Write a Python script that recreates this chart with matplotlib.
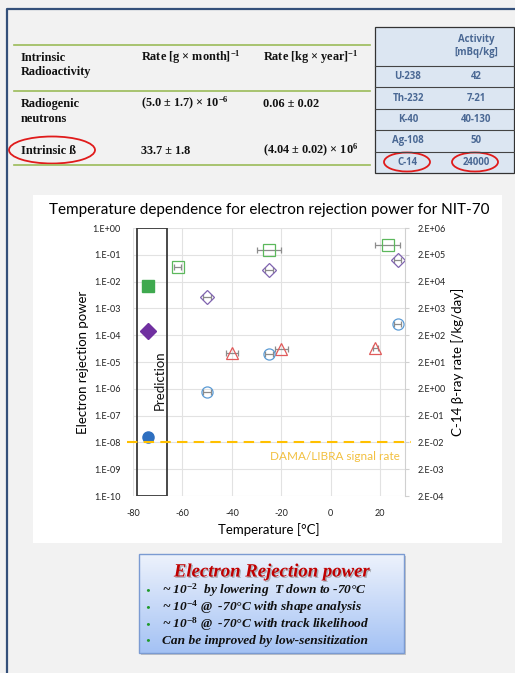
"""
NIT-70 electron rejection power vs temperature (slide recreation)
"""
import numpy as np
import matplotlib
matplotlib.use('Agg')
import matplotlib.pyplot as plt
import matplotlib.patheffects as pe
from matplotlib.patches import Rectangle, Ellipse
from matplotlib.colors import LinearSegmentedColormap
from matplotlib.ticker import FixedLocator, NullLocator, FuncFormatter

plt.rcParams['font.family'] = ['Lato', 'DejaVu Sans']
plt.rcParams['axes.unicode_minus'] = False
plt.rcParams['mathtext.fontset'] = 'custom'
plt.rcParams['mathtext.rm'] = 'Liberation Serif:bold'
plt.rcParams['mathtext.bf'] = 'Liberation Serif:bold'
plt.rcParams['mathtext.it'] = 'Liberation Serif:italic:bold'

# ---- data ----
# open squares (green)
sq_temp = [-62, -25, 23]
sq_val = [3.6e-2, 0.15, 0.23]
sq_err = [1.5, 5, 5]
# open diamonds (purple)
dia_temp = [-50, -25, 27]
dia_val = [2.7e-3, 2.6e-2, 6.4e-2]
dia_err = [1.5, 1.5, 1.5]
# open triangles (red)
tri_temp = [-40, -20, 18]
tri_val = [2.1e-5, 3.0e-5, 3.2e-5]
tri_err = [2.5, 2.5, 1.0]
# open circles (blue)
cir_temp = [-50, -25, 27]
cir_val = [7.9e-7, 2.0e-5, 2.6e-4]
cir_err = [1.5, 1.5, 1.5]
# prediction at -74 C
pred_temp = [-74]
pred_sq = [7e-3]
pred_dia = [1.4e-4]
pred_cir = [1.6e-8]
pred_box = [-78.4, -66.4]

dama_rate = 1e-8
c14_scale = 2e6   # right axis = left axis * 2e6

x_ticks = [-80, -60, -40, -20, 0, 20]
y_exps = np.arange(-10, 1)

# tables (one string per line)
left_head = [['Intrinsic', 'Radioactivity'], ['Rate [g × month]$^{-1}$'], ['Rate [kg × year]$^{-1}$']]
left_rows = [[['Radiogenic', 'neutrons'], ['(5.0 ± 1.7) × 10$^{-6}$'], ['0.06 ± 0.02']],
             [['Intrinsic ß'], ['33.7 ± 1.8'], ['(4.04 ± 0.02) × 10$^{6}$']]]
iso_names = ['U-238', 'Th-232', 'K-40', 'Ag-108', 'C-14']
iso_activity = ['42', '7-21', '40-130', '50', '24000']

box_title = 'Electron Rejection power'
box_lines = [r'~ 10$^{\mathit{-2}}$  by lowering  T down to -70°C',
             r'~ 10$^{\mathit{-4}}$ @  -70°C with shape analysis',
             r'~ 10$^{\mathit{-8}}$ @  -70°C with track likelihood',
             'Can be improved by low-sensitization']

W, H = 515, 673
fig = plt.figure(figsize=(W / 100, H / 100), dpi=100)
fig.patch.set_facecolor('#f2f2f2')

# background layer in pixel coords
bg = fig.add_axes([0, 0, 1, 1])
bg.axis('off')

# slide frame
bg.plot([7, 7, W], [H, 9, 9], color='#34507a', lw=1.6)

# left table
for y in [45, 90.5, 165]:
    bg.plot([14, 370], [y, y], color='#9bbb59', lw=1.2)
serif = dict(family='Liberation Serif', fontweight='bold', fontsize=8.8, va='baseline', color='#111111')
col_x = [21, 141, 263]


def cell(x, y0, lines):
    for j, s in enumerate(lines):
        bg.text(x, y0 + j * 14.5, s, **serif)


for x, c in zip(col_x, left_head):
    cell(x, 61, c)
for y, row in zip([107, 154], left_rows):
    for x, c in zip(col_x, row):
        cell(x, y, c)

# right table
bg.add_patch(Rectangle((375, 27), 139, 146, facecolor='#dce6f2', edgecolor='#333333', lw=0.9))
row_y = np.linspace(66, 173, 6)
for y in row_y[:-1]:
    bg.plot([375, 514], [y, y], color='#444444', lw=0.8)
tbl = dict(family='Open Sans', fontsize=6.9, fontweight='bold', color='#4a6894', ha='center', va='center')
bg.text(476, 46, 'Activity\n[mBq/kg]', linespacing=1.3, **tbl)
for i, (n, a) in enumerate(zip(iso_names, iso_activity)):
    yc = (row_y[i] + row_y[i + 1]) / 2
    bg.text(408, yc, n, **tbl)
    bg.text(476, yc, a, **tbl)

# red ellipses
for cx, cy, w, h in [(52, 150, 86, 27), (407, 162, 46, 19), (475, 162, 46, 19)]:
    bg.add_patch(Ellipse((cx, cy), w, h, facecolor='none', edgecolor='#e01b1b', lw=1.3))

# white chart panel
bg.add_patch(Rectangle((33, 195), 469, 348, facecolor='white', edgecolor='none'))

# bottom text box
bg.add_patch(Rectangle((141, 556), 265, 99, facecolor='#c4c4c4', edgecolor='none'))
grad = LinearSegmentedColormap.from_list('box', ['#edf2fc', '#a4c2f4'])
bg.imshow(np.linspace(0, 1, 100).reshape(-1, 1), cmap=grad, extent=(139, 404, 653, 554),
          aspect='auto', zorder=2)
bg.add_patch(Rectangle((139, 554), 265, 99, facecolor='none', edgecolor='#7b9bd2', lw=1.0, zorder=3))
bg.text(272, 572, box_title, family='Liberation Serif', fontstyle='italic', fontweight='bold',
        fontsize=13.5, color='#c00000', ha='center', va='center', zorder=4,
        path_effects=[pe.withSimplePatchShadow(offset=(1, -1), shadow_rgbFace='#777777', alpha=0.5)])
for i, s in enumerate(box_lines):
    y = 590 + i * 16.7
    bg.text(148, y, '•', fontsize=6, color='#1f9a2a', ha='center', va='center', zorder=4)
    bg.text(162, y + 4, s, family='Liberation Serif', fontstyle='italic', fontweight='bold',
            fontsize=9.6, color='#111111', va='baseline', zorder=4)

bg.set_xlim(0, W)
bg.set_ylim(H, 0)

# ---- chart ----
ax = fig.add_axes([133 / W, 1 - 496 / H, 272 / W, 268 / H])
ax.set_facecolor('none')
ax.set_yscale('log')
ax.set_xlim(-80, 30)
ax.set_ylim(1e-10, 1)
ax.set_xticks(x_ticks)
ax.yaxis.set_major_locator(FixedLocator(10.0 ** y_exps))
ax.yaxis.set_minor_locator(NullLocator())
ax.yaxis.set_major_formatter(FuncFormatter(lambda v, p: '1.E%+03d' % round(np.log10(v))))
ax.grid(True, color='#e2e2e2', lw=0.8)
ax.tick_params(length=0, labelsize=6.5, colors='#222222', pad=9)
for s in ax.spines.values():
    s.set_visible(False)

ebar = dict(ls='none', ecolor='#8c8c8c', elinewidth=0.9, capsize=2, capthick=0.8)
ax.errorbar(sq_temp, sq_val, xerr=sq_err, marker='s', ms=8.5, mfc='none', mec='#5cb85c', mew=0.9, **ebar)
ax.errorbar(dia_temp, dia_val, xerr=dia_err, marker='D', ms=7.5, mfc='none', mec='#8064b0', mew=0.9, **ebar)
ax.errorbar(tri_temp, tri_val, xerr=tri_err, marker='^', ms=8.5, mfc='none', mec='#e05a5a', mew=0.9, **ebar)
ax.errorbar(cir_temp, cir_val, xerr=cir_err, marker='o', ms=8, mfc='none', mec='#5b9bd5', mew=0.9, **ebar)

ax.plot(pred_temp, pred_sq, 's', ms=8, color='#3fa94f')
ax.plot(pred_temp, pred_dia, 'D', ms=8, color='#7030a0')
ax.plot(pred_temp, pred_cir, 'o', ms=8, color='#2e6fc0')

ax.add_patch(Rectangle((pred_box[0], 1e-10), pred_box[1] - pred_box[0], 1 - 1e-10,
                       facecolor='none', edgecolor='#3a3a3a', lw=1.3, zorder=3))
ax.text(-69, 2.1e-6, 'Prediction', rotation=90, fontsize=9.5, ha='center', va='center', color='#111111')

ax.plot([-82.5, 32.5], [dama_rate, dama_rate], ls=(0, (5, 3)), color='#ffc000', lw=1.5, clip_on=False, zorder=4)
ax.text(28, 3e-9, 'DAMA/LIBRA signal rate', fontsize=8.5, color='#f2c040', ha='right', va='center')

ax.set_xlabel('Temperature [°C]', fontsize=9.5, labelpad=4)
ax.set_ylabel('Electron rejection power', fontsize=9.5, labelpad=2)
ax.set_title('Temperature dependence for electron rejection power for NIT-70', fontsize=11, pad=10, x=0.5)

ax2 = ax.twinx()
ax2.set_yscale('log')
ax2.set_ylim(1e-10 * c14_scale, 1 * c14_scale)
ax2.yaxis.set_major_locator(FixedLocator(c14_scale * 10.0 ** y_exps))
ax2.yaxis.set_minor_locator(NullLocator())
ax2.yaxis.set_major_formatter(FuncFormatter(lambda v, p: '2.E%+03d' % round(np.log10(v / 2))))
ax2.tick_params(length=3, color='#d0d0d0', labelsize=6.5, labelcolor='#222222', pad=6)
for k, s in ax2.spines.items():
    s.set_visible(k == 'right')
ax2.spines['right'].set_color('#d0d0d0')
ax2.set_ylabel('C-14 β-ray rate [/kg/day]', fontsize=9.5, labelpad=4)

plt.savefig('out.png', dpi=100, facecolor=fig.get_facecolor())
plt.close()
